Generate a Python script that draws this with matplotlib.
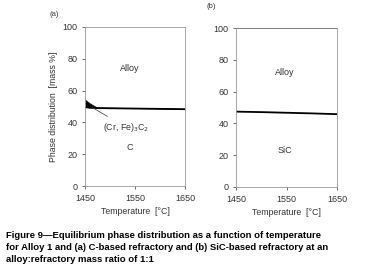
import matplotlib.pyplot as plt
import numpy as np

# temperatures [C]
temp_a = [1450, 1460, 1475, 1500, 1550, 1600, 1650]
c_phase = [49.6, 49.2, 49.0, 48.9, 48.7, 48.5, 48.3]
carbide = [4.6, 2.6, 0.0, 0.0, 0.0, 0.0, 0.0]

temp_b = [1450, 1500, 1550, 1600, 1650]
sic_phase = [47.4, 47.1, 46.7, 46.3, 45.8]

xticks = [1450, 1550, 1650]
yticks = [0, 20, 40, 60, 80, 100]

plt.rcParams['font.family'] = ['Liberation Sans', 'DejaVu Sans']

fig = plt.figure(figsize=(3.68, 2.74), dpi=100)
ax_a = fig.add_axes([85/368, 1-186/274, 100/368, 159/274])
ax_b = fig.add_axes([236/368, 1-187/274, 101/368, 159/274])

def style(ax):
    ax.set_xlim(1450, 1650)
    ax.set_ylim(0, 100)
    ax.set_xticks(xticks)
    ax.set_yticks(yticks)
    ax.tick_params(labelsize=6.5, colors='#333333', length=2, width=0.5)
    for s in ax.spines.values():
        s.set_color('#999999')
        s.set_linewidth(0.6)
    ax.set_xlabel('Temperature  [°C]', fontsize=6.3, color='#333333', labelpad=3)

# (a) C-based refractory
style(ax_a)
top_a = np.array(c_phase) + np.array(carbide)
ax_a.fill_between(temp_a, c_phase, top_a, color='black', lw=0)
ax_a.plot(temp_a, c_phase, color='black', lw=1.3)
ax_a.plot(temp_a, top_a, color='black', lw=0.6)
ax_a.set_ylabel('Phase distribution  [mass %]', fontsize=6.3, color='#333333', labelpad=3)
ax_a.text(1540, 74, 'Alloy', fontsize=6.5, ha='center', va='center', color='#333333')
ax_a.text(1540, 24, 'C', fontsize=6.5, ha='center', va='center', color='#333333')
ax_a.annotate('(Cr, Fe)$_3$C$_2$', xy=(1456, 51), xytext=(1485, 37),
              fontsize=6.3, color='#333333', va='center',
              arrowprops=dict(arrowstyle='-', color='#333333', lw=0.5))
fig.text(50/368, 1-14/274, '(a)', fontsize=5.5, color='#333333', va='center')

# (b) SiC-based refractory
style(ax_b)
ax_b.plot(temp_b, sic_phase, color='black', lw=1.3)
ax_b.axhline(100, color='black', lw=1.3)
ax_b.text(1547, 72, 'Alloy', fontsize=6.5, ha='center', va='center', color='#333333')
ax_b.text(1547, 23, 'SiC', fontsize=6.5, ha='center', va='center', color='#333333')
fig.text(206/368, 1-6/274, '(b)', fontsize=5.5, color='#333333', va='center')

caption = ('Figure 9\u2014Equilibrium phase distribution as a function of temperature\n'
           'for Alloy 1 and (a) C-based refractory and (b) SiC-based refractory at an\n'
           'alloy:refractory mass ratio of 1:1')
fig.text(6/368, 1-231/274, caption, fontsize=6.8, fontweight='bold', va='top',
         linespacing=1.45)

fig.savefig('out.png', dpi=100)
